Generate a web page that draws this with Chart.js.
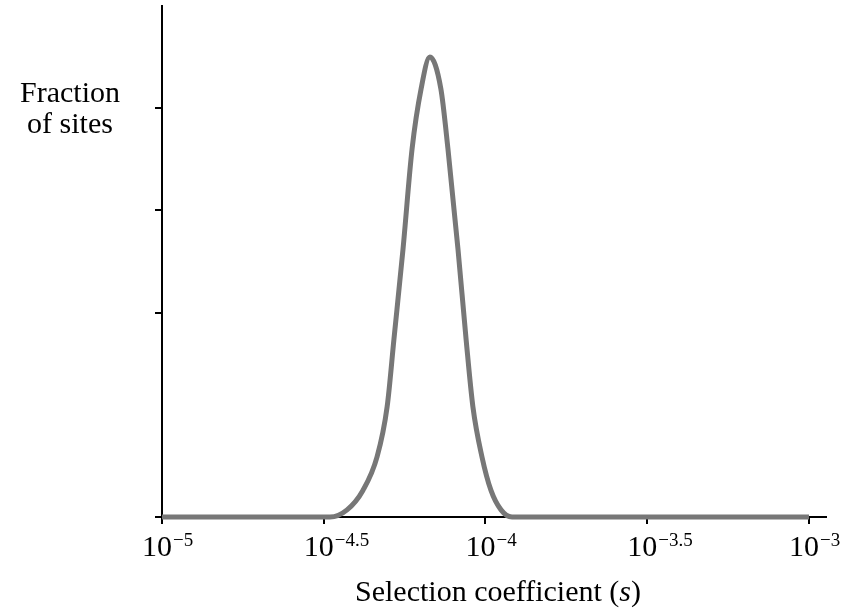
<!DOCTYPE html>
<html>
<head>
<meta charset="utf-8">
<script src="https://cdn.jsdelivr.net/npm/chart.js@4"></script>
<style>
  html, body { margin: 0; padding: 0; background: #fff; }
  #wrap { width: 857px; height: 609px; }
</style>
</head>
<body>
<div id="wrap"><canvas id="distChart" width="857" height="609"></canvas></div>
<script>
// log10 of selection coefficient
var logS = [-5, -4.6, -4.481, -4.428, -4.379, -4.335, -4.304, -4.283, -4.255, -4.227, -4.199, -4.172,
            -4.138, -4.116, -4.085, -4.060, -4.039, -4.011, -3.983, -3.952, -3.918, -3.8, -3];
var fraction = [0, 0, 0, 0.07, 0.26, 0.59, 1.08, 1.74, 2.62, 3.60, 4.19, 4.50,
                4.19, 3.60, 2.62, 1.74, 1.08, 0.59, 0.26, 0.07, 0, 0, 0];

var xTicks = [-5, -4.5, -4, -3.5, -3];
var xTickExp = ['\u22125', '\u22124.5', '\u22124', '\u22123.5', '\u22123'];
var yTicks = [0, 2, 3, 4];

var serif = '"Liberation Serif", "Times New Roman", serif';

// tick labels and axis titles (10 with superscript exponents, italic s)
var textPlugin = {
    id: 'textPlugin',
    afterDraw: function (chart) {
        var ctx = chart.ctx;
        var xs = chart.scales.x;
        ctx.save();
        ctx.fillStyle = '#000';
        ctx.textBaseline = 'alphabetic';
        ctx.textAlign = 'left';
        xTicks.forEach(function (v, i) {
            var px = xs.getPixelForValue(v) - 20;
            ctx.font = '30px ' + serif;
            ctx.fillText('10', px, 556);
            var w = ctx.measureText('10').width;
            ctx.font = '19px ' + serif;
            ctx.fillText(xTickExp[i], px + w + 1, 546);
        });

        // y title
        ctx.textAlign = 'center';
        ctx.font = '30px ' + serif;
        ctx.fillText('Fraction', 70, 102);
        ctx.fillText('of sites', 70, 133);

        // x title
        ctx.textAlign = 'left';
        var parts = [['Selection coefficient (', 'normal'], ['s', 'italic'], [')', 'normal']];
        var total = 0;
        parts.forEach(function (p) {
            ctx.font = p[1] + ' 30px ' + serif;
            total += ctx.measureText(p[0]).width;
        });
        var x0 = 498 - total / 2;
        parts.forEach(function (p) {
            ctx.font = p[1] + ' 30px ' + serif;
            ctx.fillText(p[0], x0, 601);
            x0 += ctx.measureText(p[0]).width;
        });
        ctx.restore();
    }
};

var points = logS.map(function (v, i) { return { x: v, y: fraction[i] }; });

var ctx1 = document.getElementById('distChart').getContext('2d');
var myChart = new Chart(ctx1, {
    type: 'scatter',
    data: {
        datasets: [{
            data: points,
            showLine: true,
            borderColor: '#777777',
            borderWidth: 5,
            pointRadius: 0,
            cubicInterpolationMode: 'monotone',
            clip: false
        }]
    },
    options: {
        responsive: false,
        animation: false,
        layout: {
            padding: { left: 155, right: 31, top: 6, bottom: 85 }
        },
        scales: {
            x: {
                type: 'linear',
                min: -5,
                max: -2.9474,
                afterBuildTicks: function (axis) {
                    axis.ticks = xTicks.map(function (v) { return { value: v }; });
                },
                ticks: { display: false },
                grid: {
                    drawOnChartArea: false,
                    drawTicks: true,
                    tickLength: 7,
                    color: '#000',
                    lineWidth: 2
                },
                border: { display: true, color: '#000', width: 2 }
            },
            y: {
                min: 0,
                max: 5,
                afterBuildTicks: function (axis) {
                    axis.ticks = yTicks.map(function (v) { return { value: v }; });
                },
                ticks: { display: false },
                grid: {
                    drawOnChartArea: false,
                    drawTicks: true,
                    tickLength: 7,
                    color: '#000',
                    lineWidth: 2
                },
                border: { display: true, color: '#000', width: 2 }
            }
        },
        plugins: {
            legend: { display: false },
            tooltip: { enabled: false }
        }
    },
    plugins: [textPlugin]
});
</script>
</body>
</html>
